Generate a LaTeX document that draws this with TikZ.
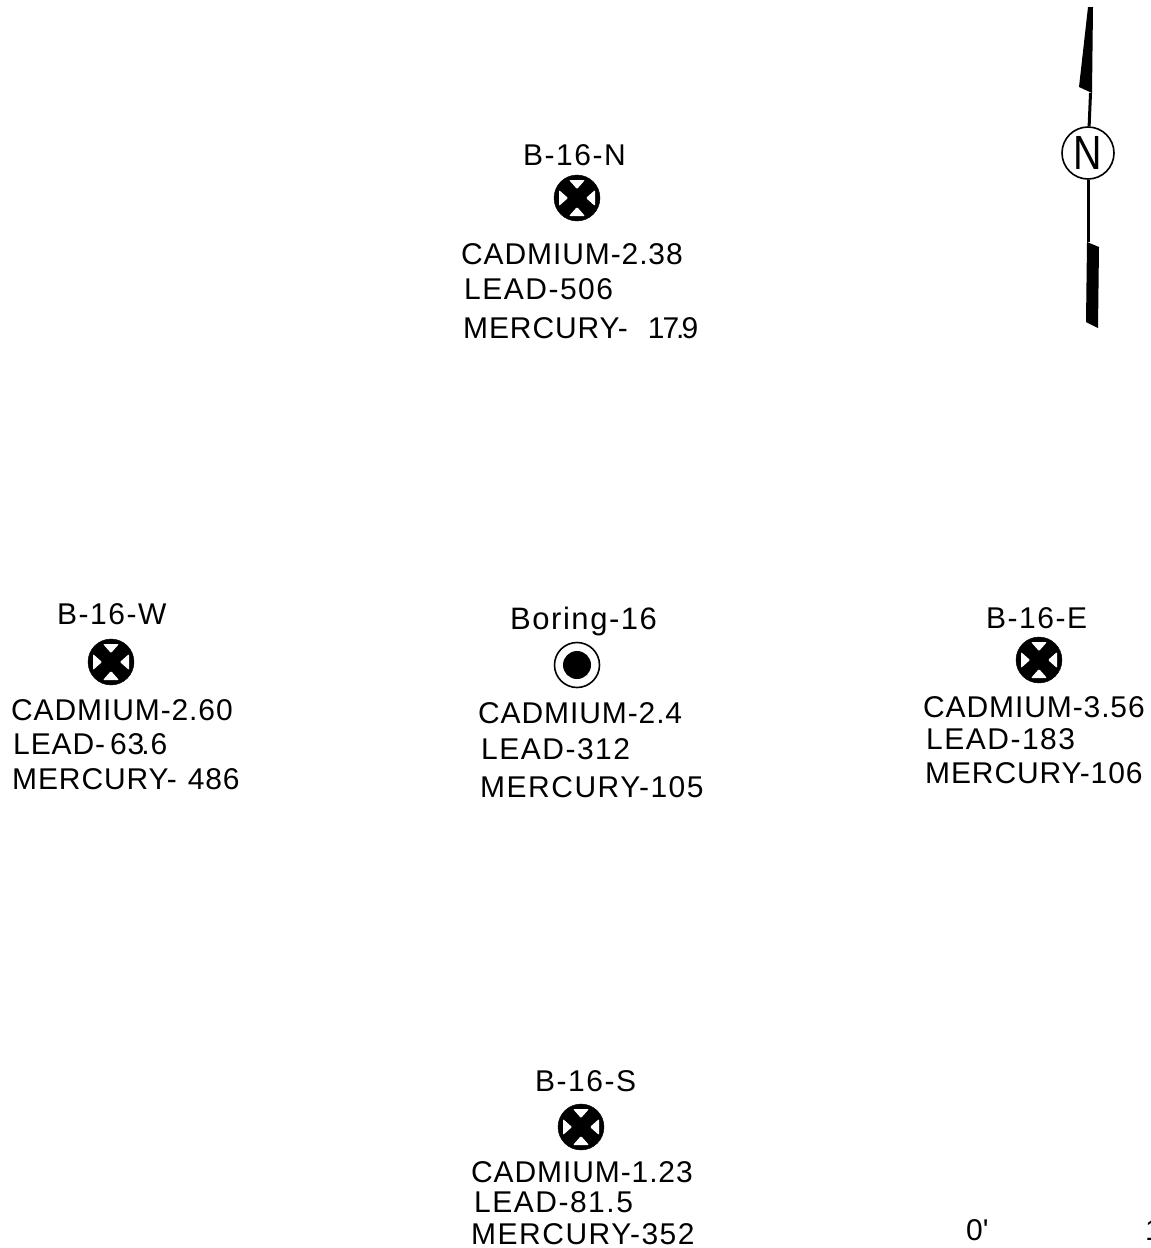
\documentclass[tikz,border=0pt]{standalone}
\usepackage{xcolor}
\usepackage{fontspec}
\setmainfont[LetterSpace=3]{Liberation Sans}
\newfontfamily\widefont[LetterSpace=5]{Liberation Sans}
\usetikzlibrary{positioning}
\tikzset{
  lab/.style={anchor=base west,inner sep=0pt,font=\fontsize{30}{30}\selectfont},
  labw/.style={lab,font=\fontsize{30}{30}\selectfont\widefont},
  xwell/.style={circle,draw=black,fill=black,minimum size=46pt,inner sep=0pt,
    path picture={
      \fill[white,rounded corners=1pt,shift={(path picture bounding box.center)}]
        (0,9) -- (8,18) -- (-8,18) -- cycle
        (0,-9) -- (8,-18) -- (-8,-18) -- cycle
        (9,0) -- (18,8) -- (18,-8) -- cycle
        (-9,0) -- (-18,8) -- (-18,-8) -- cycle;
    }},
  bwell/.style={circle,draw=black,line width=1.6pt,minimum size=45pt,inner sep=0pt},
  bdot/.style={circle,fill=black,minimum size=28pt,inner sep=0pt},
  nc/.style={circle,draw=black,line width=1.6pt,minimum size=52pt,inner sep=0pt,
    font=\fontsize{48}{48}\selectfont},
  nl/.style={draw=black,line width=3pt},
}
\begin{document}
\begin{tikzpicture}[x=1pt,y=-1pt]
  \useasboundingbox (0,0) rectangle (1151,1248);
  % north
  \node[xwell] (wn) at (577,198) {};
  \node[labw] (tn) at (523,165) {B-16-N};
  \node[lab] (n1) at (461,264) {CADMIUM-2.38};
  \node[labw] (n2) at (464,299) {LEAD-506};
  \node[lab] (n3) at (463,338) {MERCURY-\kern20pt 1\kern-2pt 7\kern-3pt.\kern-3pt 9};
  % west
  \node[xwell] (ww) at (111,662) {};
  \node[labw] (tw) at (57,624) {B-16-W};
  \node[lab] (w1) at (11,720) {CADMIUM-2.60};
  \node[lab] (w2) at (13,754) {LEAD-\,63\kern-3pt.6};
  \node[lab] (w3) at (12,789) {MERCURY-\kern11pt 486};
  % centre
  \node[bwell] (wc) at (577,665) {};
  \node[bdot] (dc) at (wc.center) {};
  \node[labw,font=\fontsize{31}{31}\selectfont\widefont] (tc) at (510,629) {Boring-16};
  \node[lab] (c1) at (478,723) {CADMIUM-2.4};
  \node[labw] (c2) at (481,759) {LEAD-312};
  \node[labw] (c3) at (480,797) {MERCURY-105};
  % east
  \node[xwell] (we) at (1039,660) {};
  \node[labw] (te) at (986,628) {B-16-E};
  \node[lab] (e1) at (923,717) {CADMIUM-3.56};
  \node[labw] (e2) at (926,749) {LEAD-183};
  \node[lab] (e3) at (925,783) {MERCURY-106};
  % south
  \node[xwell] (ws) at (581,1127) {};
  \node[labw] (ts) at (535,1091) {B-16-S};
  \node[lab] (s1) at (471,1182) {CADMIUM-1.23};
  \node[labw] (s2) at (474,1212) {LEAD-81.5};
  \node[labw] (s3) at (471,1244) {MERCURY-352};
  % scale
  \node[lab] (z0) at (966,1240) {0\textquotesingle};
  \node[lab] (z1) at (1145,1240) {1};
  % arrow
  \node[nc] (nn) at (1088,153) {\scalebox{.82}[1]{N}};
  \coordinate (up) at (1090.5,93);
  \coordinate (lo) at (1088,242);
  \fill (1088,7) -- (1093,7) -- (1092,93) -- (1079,87) -- cycle;
  \fill (1087,242) -- (1099,247) -- (1098,328) -- (1086,322) -- cycle;
  \draw[nl] (nn) -- (up);
  \draw[nl] (nn) -- (lo);
\end{tikzpicture}
\end{document}
